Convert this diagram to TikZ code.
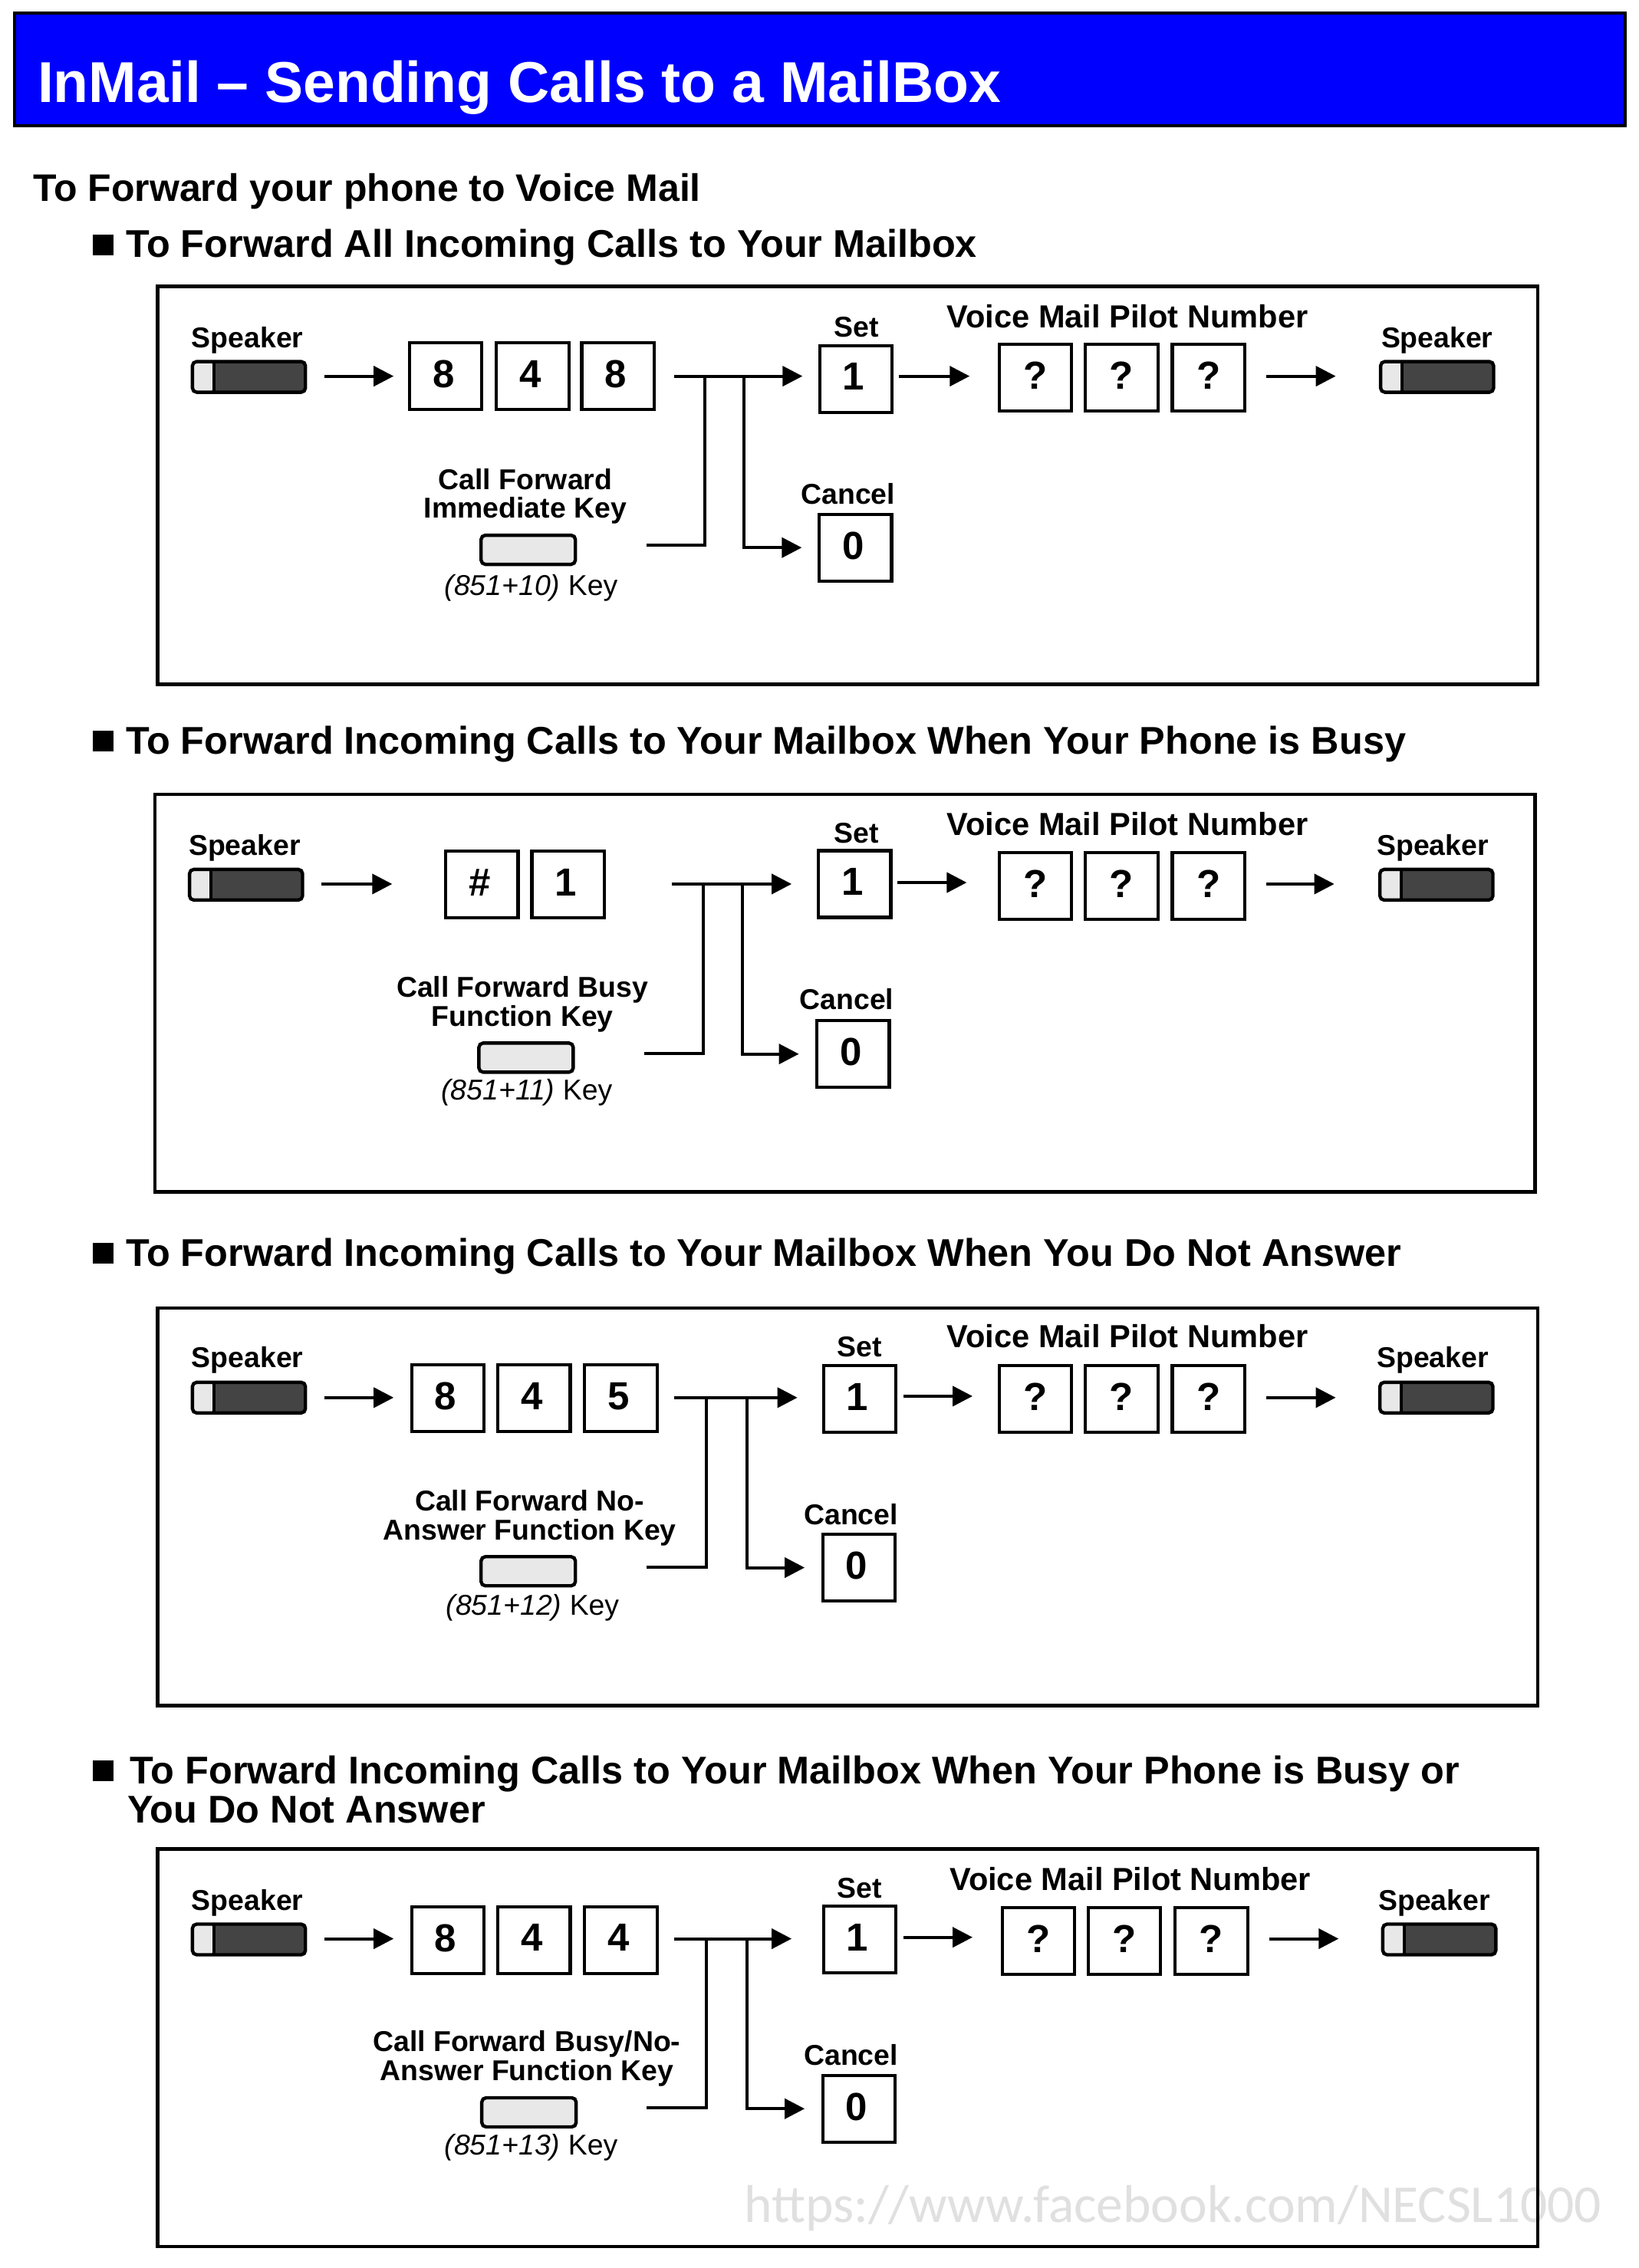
\documentclass[tikz,border=0pt]{standalone}
\usepackage{fontspec}
\setmainfont{Liberation Sans}
\newfontfamily\wmfont{Carlito}
\usetikzlibrary{arrows.meta}
\definecolor{keygrey}{HTML}{E8E8E8}
\definecolor{spkdark}{HTML}{444444}
\definecolor{wmgrey}{HTML}{E0E0E0}
\definecolor{barblue}{HTML}{0000FF}
\newcommand{\U}{0.9435pt}
\tikzset{
  frameb/.style={draw=black,line width=2.3pt,minimum width=899.7pt,minimum height=259.3pt,inner sep=0,outer sep=0,fill=none},
  digbox/.style={draw=black,line width=2.1pt,minimum width=47.2pt,minimum height=43.5pt,inner sep=0,outer sep=0,text depth=3pt,font=\fontsize{25.5}{26}\selectfont\bfseries},
  numbox/.style={digbox,execute at begin node={\kern-3pt}},
  spkbox/.style={draw=black,fill=spkdark,line width=2.2pt,rounded corners=2.8pt,minimum width=73.7pt,minimum height=20pt,inner sep=0,outer sep=0,
    path picture={\fill[keygrey] (path picture bounding box.north west) rectangle ([xshift=13.5pt]path picture bounding box.south west);
      \draw[line width=2pt] ([xshift=14pt]path picture bounding box.north west) -- ([xshift=14pt]path picture bounding box.south west);}},
  keybox/.style={draw=black,fill=keygrey,line width=2.2pt,rounded corners=2.8pt,minimum width=61.5pt,minimum height=19pt,inner sep=0,outer sep=0},
  lbl/.style={inner sep=0,outer sep=0,align=center,font=\fontsize{18.7}{18.9}\selectfont\bfseries},
  spkl/.style={lbl,yshift=-1.9pt},
  setl/.style={lbl},
  canl/.style={lbl,yshift=0.5pt},
  keyl/.style={lbl,yshift=-1.9pt},
  lblbig/.style={inner sep=0,outer sep=0,yshift=0.5pt,font=\fontsize{20.8}{21}\selectfont\bfseries},
  keyno/.style={inner sep=0,outer sep=0,yshift=-1.1pt,font=\fontsize{18.7}{19}\selectfont},
  head/.style={inner sep=0,outer sep=0,anchor=base west,align=left,font=\fontsize{25.2}{24.5}\selectfont\bfseries},
  titletxt/.style={inner sep=0,outer sep=0,anchor=base west,text=white,font=\fontsize{37.55}{40}\selectfont\bfseries},
  bullet/.style={fill=black,inner sep=0,outer sep=0,minimum size=13.5pt},
  wire/.style={line width=2pt},
  arr/.style={line width=2pt,-{Triangle[length=13pt,width=13pt]}},
}
% horizontal arrow between two nodes along a row, with gaps at both ends
\newcommand{\hlink}[5]{\draw[arr,shorten <=#4*\U,shorten >=#5*\U] (#1.east |- #3) -- (#2.west |- #3);}
\newcommand{\spk}[3]{\node[spkbox] (#1) at (#2,#3) {};}
\begin{document}
\begin{tikzpicture}[x=\U,y=-\U]
\useasboundingbox (0,0) rectangle (1132.5,1567.6);
\fill[white] (0,0) rectangle (1132.5,1567.6);

% watermark beneath everything
\node[inner sep=0,text=wmgrey,anchor=base west,font=\fontsize{34.75}{40}\selectfont\wmfont] (wm) at (514,1536) {https://www.facebook.com/NECSL1000};

% title bar
\node[draw=black,fill=barblue,line width=2pt,minimum width=1050pt,minimum height=73.6pt,inner sep=0,outer sep=0,anchor=north west] (bar) at (10,9) {};
\node[titletxt] (title) at (26,71) {InMail – Sending Calls to a MailBox};

% headings
\node[head,font=\fontsize{25}{24.5}\selectfont\bfseries] (h0) at (23,139) {To Forward your phone to Voice Mail};
\node[bullet,anchor=north west] (b1) at (64,162) {};
\node[head] (h1) at (87,178) {To Forward All Incoming Calls to Your Mailbox};
\node[bullet,anchor=north west] (b2) at (64,505) {};
\node[head] (h2) at (87,521) {To Forward Incoming Calls to Your Mailbox When Your Phone is Busy};
\node[bullet,anchor=north west] (b3) at (64,859) {};
\node[head] (h3) at (87,875) {To Forward Incoming Calls to Your Mailbox When You Do Not Answer};
\node[bullet,anchor=north west] (b4) at (64,1216.5) {};
\node[head] (h4) at (90,1233) {To Forward Incoming Calls to Your Mailbox When Your Phone is Busy or};
\node[head] (h4b) at (88,1260) {You Do Not Answer};

% ---------- panel 1
\node[frameb,anchor=north west] (af) at (109,198) {};
\coordinate (ar) at (0,260);
\coordinate (arb) at (0,260);
\coordinate (aj1) at (487,260); \coordinate (aj2) at (514,260); \coordinate (ak) at (447,377);
\spk{as}{172}{260.5}
\node[spkl] (asl) at (171,233) {Speaker};
\node[numbox] (ad1) at (308,260) {8};
\node[numbox] (ad2) at (368,260) {4};
\node[numbox] (ad3) at (427,260) {8};
\node[numbox] (aset) at (591.5,262) {1};
\node[setl] (asetl) at (592,226) {Set};
\node[digbox] (aq1) at (715.5,261) {?};
\node[digbox] (aq2) at (775,261) {?};
\node[digbox] (aq3) at (835,261) {?};
\node[lblbig] (avm) at (779,219) {Voice Mail Pilot Number};
\spk{ae}{993}{260.5}
\node[spkl] (ael) at (993,233) {Speaker};
\node[numbox] (ac) at (591,378.5) {0};
\node[canl] (acl) at (586,342) {Cancel};
\node[keybox] (ak1) at (365,380) {};
\node[keyl] (akl) at (363,341) {Call Forward\\Immediate Key};
\node[keyno] (akn) at (367,405) {\textit{(851+10)} Key};
\hlink{as}{ad1}{ar}{13}{11}
\hlink{ad3}{aset}{ar}{14}{12}
\hlink{aset}{aq1}{arb}{4.5}{20.5}
\hlink{aq3}{ae}{ar}{15}{31}
\draw[wire] (ak) -| (aj1);
\draw[arr,shorten >=12*\U] (aj2) |- (ac.west);

% ---------- panel 2
\node[frameb,anchor=north west] (bf) at (107,549) {};
\coordinate (br) at (0,611);
\coordinate (brb) at (0,610);
\coordinate (bj1) at (486,611); \coordinate (bj2) at (513,611); \coordinate (bk) at (445,728);
\spk{bs}{170}{611.5}
\node[spkl] (bsl) at (169,584) {Speaker};
\node[numbox] (bd1) at (333,611.5) {\#};
\node[numbox] (bd2) at (392.5,611.5) {1};
\node[numbox] (bset) at (590.5,611) {1};
\node[setl] (bsetl) at (592,576) {Set};
\node[digbox] (bq1) at (715.5,612.5) {?};
\node[digbox] (bq2) at (775,612.5) {?};
\node[digbox] (bq3) at (835,612.5) {?};
\node[lblbig] (bvm) at (779,570) {Voice Mail Pilot Number};
\spk{be}{992.5}{611.5}
\node[spkl] (bel) at (990,584) {Speaker};
\node[numbox] (bc) at (589.5,728.5) {0};
\node[canl] (bcl) at (585,691) {Cancel};
\node[keybox] (bk1) at (363.5,731) {};
\node[keyl] (bkl) at (361,692) {Call Forward Busy\\Function Key};
\node[keyno] (bkn) at (364,754) {\textit{(851+11)} Key};
\hlink{bs}{bd1}{br}{13}{37}
\hlink{bd2}{bset}{br}{46.5}{18.5}
\hlink{bset}{bq1}{brb}{4.5}{22.5}
\hlink{bq3}{be}{br}{15}{31.5}
\draw[wire] (bk) -| (bj1);
\draw[arr,shorten >=12.5*\U] (bj2) |- (bc.west);

% ---------- panel 3
\node[frameb,anchor=north west] (cf) at (109,904) {};
\coordinate (cr) at (0,966);
\coordinate (crb) at (0,965);
\coordinate (cj1) at (488,966); \coordinate (cj2) at (516,966); \coordinate (ck) at (447,1083);
\spk{cs}{172}{966}
\node[spkl] (csl) at (171,938) {Speaker};
\node[numbox] (cd1) at (309.5,966.5) {8};
\node[numbox] (cd2) at (369,966.5) {4};
\node[numbox] (cd3) at (429,966.5) {5};
\node[numbox] (cset) at (594,967) {1};
\node[setl] (csetl) at (594,931) {Set};
\node[digbox] (cq1) at (715.5,967) {?};
\node[digbox] (cq2) at (775,967) {?};
\node[digbox] (cq3) at (835,967) {?};
\node[lblbig] (cvm) at (779,924) {Voice Mail Pilot Number};
\spk{ce}{992.5}{966}
\node[spkl] (cel) at (990,938) {Speaker};
\node[numbox] (cc) at (593.5,1083.5) {0};
\node[canl] (ccl) at (588,1047) {Cancel};
\node[keybox] (ck1) at (365,1086) {};
\node[keyl] (ckl) at (366,1047) {Call Forward No-\\Answer Function Key};
\node[keyno] (ckn) at (368,1110) {\textit{(851+12)} Key};
\hlink{cs}{cd1}{cr}{13}{12.5}
\hlink{cd3}{cset}{cr}{12}{18}
\hlink{cset}{cq1}{crb}{5}{18.5}
\hlink{cq3}{ce}{cr}{15}{30.5}
\draw[wire] (ck) -| (cj1);
\draw[arr,shorten >=12.5*\U] (cj2) |- (cc.west);

% ---------- panel 4
\node[frameb,anchor=north west] (df) at (109,1278) {};
\coordinate (dr) at (0,1340);
\coordinate (drb) at (0,1339);
\coordinate (dj1) at (488,1340); \coordinate (dj2) at (516,1340); \coordinate (dk) at (447,1457);
\spk{ds}{172}{1340.5}
\node[spkl] (dsl) at (171,1313) {Speaker};
\node[numbox] (dd1) at (309.5,1341) {8};
\node[numbox] (dd2) at (369,1341) {4};
\node[numbox] (dd3) at (429,1341) {4};
\node[numbox] (dset) at (594,1340.5) {1};
\node[setl] (dsetl) at (594,1305) {Set};
\node[digbox] (dq1) at (717.5,1341.5) {?};
\node[digbox] (dq2) at (777,1341.5) {?};
\node[digbox] (dq3) at (837,1341.5) {?};
\node[lblbig] (dvm) at (781,1299) {Voice Mail Pilot Number};
\spk{de}{994.5}{1340.5}
\node[spkl] (del) at (991,1313) {Speaker};
\node[numbox] (dc) at (593.5,1457.5) {0};
\node[canl] (dcl) at (588,1421) {Cancel};
\node[keybox] (dk1) at (365.5,1460) {};
\node[keyl] (dkl) at (364,1421) {Call Forward Busy/No-\\Answer Function Key};
\node[keyno] (dkn) at (367,1483) {\textit{(851+13)} Key};
\hlink{ds}{dd1}{dr}{13}{12.5}
\hlink{dd3}{dset}{dr}{12}{22}
\hlink{dset}{dq1}{drb}{5}{20.5}
\hlink{dq3}{de}{dr}{15}{30.5}
\draw[wire] (dk) -| (dj1);
\draw[arr,shorten >=12.5*\U] (dj2) |- (dc.west);
\end{tikzpicture}
\end{document}
